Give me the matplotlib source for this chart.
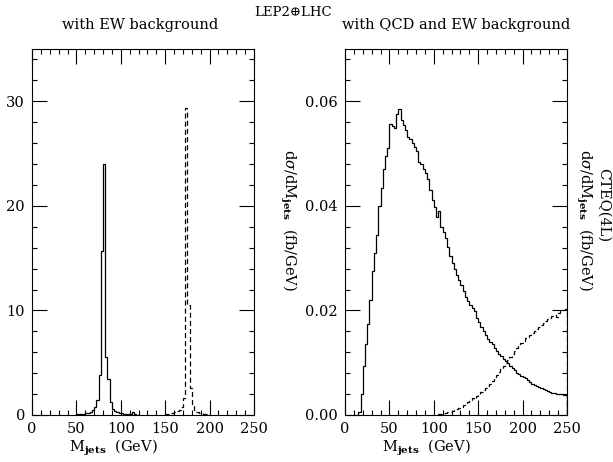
import numpy as np
import matplotlib
matplotlib.use("Agg")
import matplotlib.pyplot as plt
from matplotlib.ticker import MultipleLocator, FormatStrFormatter

# ─────────────────────── Data (2.5 GeV bins) ───────────────────────
BIN = 2.5

# left panel: EW background only
ew_solid_start = 50.0
ew_solid = [0.05, 0.05, 0.1, 0.1, 0.15, 0.2, 0.3, 0.5, 0.8, 1.4,
            3.8, 15.7, 24.0, 5.5, 3.4, 1.2, 0.6, 0.4, 0.3, 0.2,
            0.15, 0.1, 0.1, 0.05, 0.05, 0.3, 0.05, 0.0]

ew_dash_start = 150.0
ew_dash = [0.1, 0.1, 0.15, 0.2, 0.25, 0.35, 0.5, 0.8, 1.6, 29.4,
           10.5, 2.6, 1.0, 0.5, 0.3, 0.2, 0.15, 0.1, 0.05, 0.05]

# right panel: QCD + EW background
qcd_solid_start = 15.0
qcd_solid = [0.0005, 0.0040, 0.0093, 0.0135, 0.0175, 0.0220, 0.0275, 0.0310,
             0.0345, 0.0400, 0.0435, 0.0470, 0.0495, 0.0510, 0.0557, 0.0552,
             0.0548, 0.0575, 0.0585, 0.0565, 0.0555, 0.0545, 0.0532, 0.0527,
             0.0520, 0.0512, 0.0505, 0.0484, 0.0480, 0.0470, 0.0462, 0.0452,
             0.0430, 0.0412, 0.0398, 0.0379, 0.0390, 0.0360, 0.0350, 0.0338,
             0.0322, 0.0305, 0.0290, 0.0280, 0.0268, 0.0258, 0.0248, 0.0238,
             0.0226, 0.0218, 0.0210, 0.0204, 0.0198, 0.0185, 0.0177, 0.0169,
             0.0160, 0.0153, 0.0146, 0.0140, 0.0135, 0.0128, 0.0122, 0.0117,
             0.0112, 0.0107, 0.0103, 0.0100, 0.0094, 0.0090, 0.0086, 0.0081,
             0.0078, 0.0075, 0.0072, 0.0070, 0.0066, 0.0063, 0.0060, 0.0057,
             0.0055, 0.0053, 0.0051, 0.0049, 0.0047, 0.0046, 0.0044, 0.0043,
             0.0042, 0.0041, 0.0040, 0.0040, 0.0039, 0.0038]

qcd_dash_start = 105.0
qcd_dash = [0.0001, 0.0002, 0.0003, 0.0004, 0.0005, 0.0006, 0.0008, 0.0010,
            0.0012, 0.0013, 0.0016, 0.0019, 0.0022, 0.0025, 0.0028, 0.0032,
            0.0030, 0.0036, 0.0040, 0.0044, 0.0048, 0.0052, 0.0056, 0.0060,
            0.0065, 0.0071, 0.0076, 0.0082, 0.0088, 0.0094, 0.0100, 0.0106,
            0.0111, 0.0117, 0.0123, 0.0128, 0.0134, 0.0138, 0.0142, 0.0147,
            0.0150, 0.0153, 0.0157, 0.0160, 0.0164, 0.0168, 0.0172, 0.0176,
            0.0180, 0.0183, 0.0186, 0.0190, 0.0192, 0.0188, 0.0196, 0.0198,
            0.0200, 0.0202]


def edges(start, vals):
    return start + BIN * np.arange(len(vals) + 1)


# ─────────────────────── Style ───────────────────────
plt.rcParams["font.family"] = ["DejaVu Serif", "DejaVu Sans"]
plt.rcParams["mathtext.fontset"] = "dejavuserif"
plt.rcParams["font.size"] = 10.5

DASH = (0, (4, 2.5))
YLAB = r"d$\sigma$/dM$_{\mathbf{jets}}$  (fb/GeV)"
XLAB = r"M$_{\mathbf{jets}}$  (GeV)"

fig = plt.figure(figsize=(6.13, 4.62), dpi=100)
axL = fig.add_axes([32 / 613, 47 / 462, 222 / 613, 366 / 462])
axR = fig.add_axes([345 / 613, 47 / 462, 222 / 613, 366 / 462])


def style(ax, ymax, ymaj, ymin, fmt):
    ax.set_xlim(0, 250)
    ax.set_ylim(0, ymax)
    ax.xaxis.set_major_locator(MultipleLocator(50))
    ax.xaxis.set_minor_locator(MultipleLocator(10))
    ax.yaxis.set_major_locator(MultipleLocator(ymaj))
    ax.yaxis.set_minor_locator(MultipleLocator(ymin))
    ax.yaxis.set_major_formatter(FormatStrFormatter(fmt))
    ax.tick_params(which="both", direction="in", top=True, right=True,
                   width=0.8, labelsize=10.5)
    ax.tick_params(which="major", length=11, pad=5)
    ax.tick_params(which="minor", length=3.5)
    for s in ax.spines.values():
        s.set_linewidth(0.8)
    ax.set_xlabel(XLAB, va="center")
    ax.xaxis.set_label_coords(0.365, -0.091)


# ─────────────────────── Left panel ───────────────────────
axL.stairs(ew_solid, edges(ew_solid_start, ew_solid), color="k", lw=0.9)
axL.stairs(ew_dash, edges(ew_dash_start, ew_dash), color="k", lw=0.9, linestyle=DASH)
style(axL, 35, 10, 2, "%d")

# ─────────────────────── Right panel ───────────────────────
axR.stairs(qcd_solid, edges(qcd_solid_start, qcd_solid), color="k", lw=0.9)
axR.stairs(qcd_dash, edges(qcd_dash_start, qcd_dash), color="k", lw=0.9, linestyle=DASH)
style(axR, 0.07, 0.02, 0.004, "%.2f")

# ─────────────────────── Labels ───────────────────────
fig.text(288 / 613, 1 - 220 / 462, YLAB, rotation=270, ha="center", va="center")
fig.text(584 / 613, 1 - 220 / 462, YLAB, rotation=270, ha="center", va="center")
fig.text(603 / 613, 1 - 205 / 462, "CTEQ(4L)", rotation=270, ha="center", va="center")

fig.text(140 / 613, 1 - 25 / 462, "with EW background", ha="center", va="center")
fig.text(293 / 613, 1 - 13 / 462, "LEP2\u2295LHC", ha="center", va="center", fontsize=9.5)
fig.text(456 / 613, 1 - 25 / 462, "with QCD and EW background", ha="center", va="center")

fig.savefig("out.png", dpi=100)
